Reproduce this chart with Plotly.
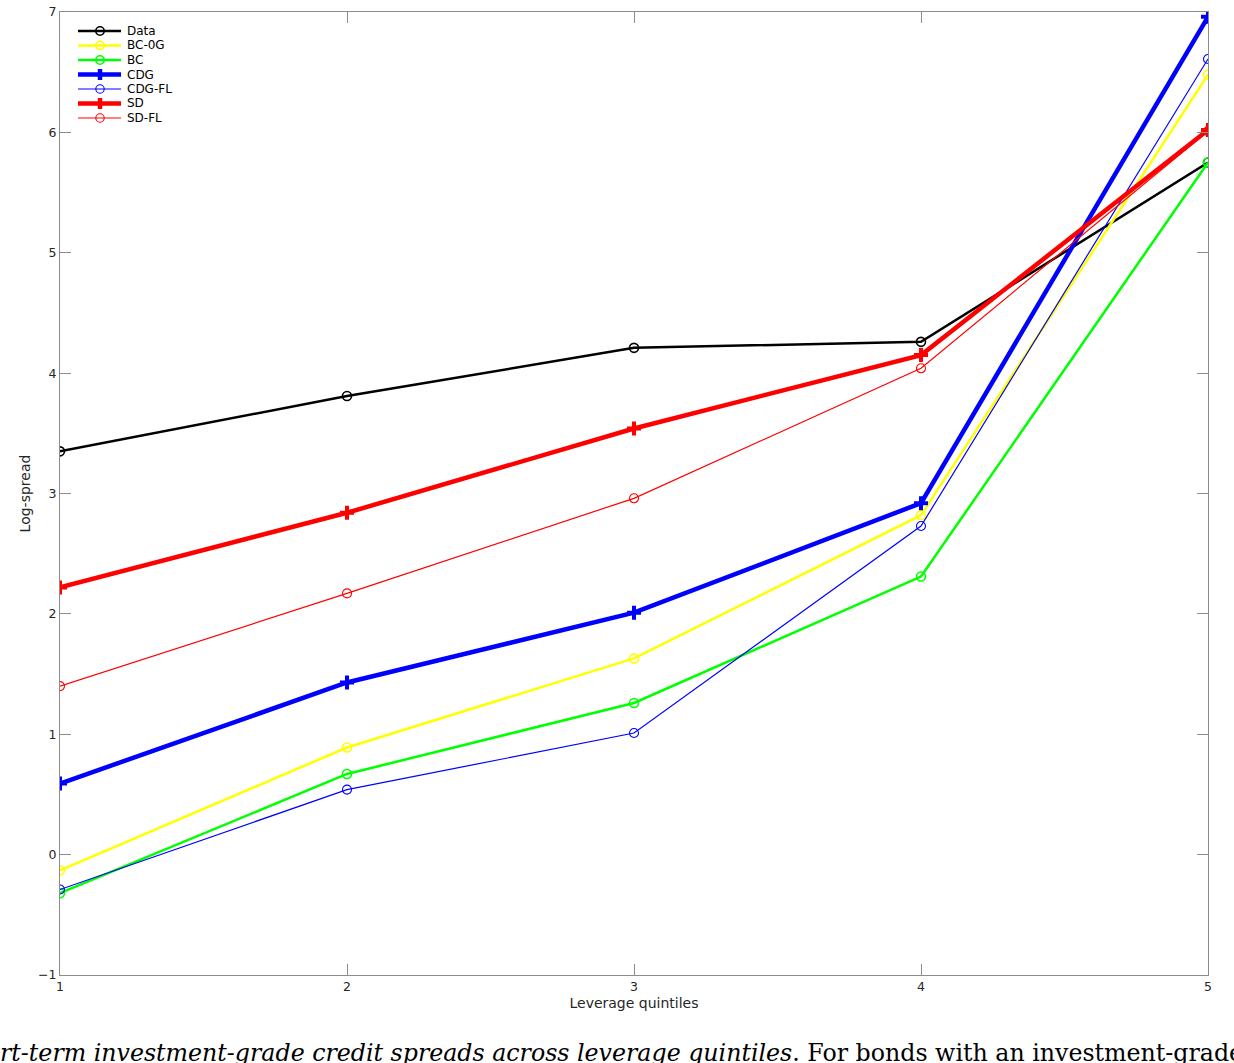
import plotly.graph_objects as go

quantiles = [1, 2, 3, 4, 5]
data_vals = [3.35, 3.81, 4.21, 4.26, 5.75]
bc0g_vals = [-0.13, 0.89, 1.63, 2.82, 6.48]
bc_vals = [-0.32, 0.67, 1.26, 2.31, 5.75]
cdg_vals = [0.59, 1.43, 2.01, 2.92, 6.96]
cdgfl_vals = [-0.29, 0.54, 1.01, 2.73, 6.61]
sd_vals = [2.22, 2.84, 3.54, 4.15, 6.02]
sdfl_vals = [1.40, 2.17, 2.96, 4.04, 6.01]

series = [
    ("Data", data_vals, "#000000", 2.5, "circle"),
    ("BC-0G", bc0g_vals, "#ffff00", 2.5, "circle"),
    ("BC", bc_vals, "#00ff00", 2.5, "circle"),
    ("CDG", cdg_vals, "#0000ff", 4.5, "plus"),
    ("CDG-FL", cdgfl_vals, "#0000ff", 1.2, "circle"),
    ("SD", sd_vals, "#ff0000", 4.5, "plus"),
    ("SD-FL", sdfl_vals, "#ff0000", 1.2, "circle"),
]

W, H = 1234, 1063
L, R, T, B = 60, 26, 12, 88
PW, PH = W - L - R, H - T - B
SANS = "DejaVu Sans, Liberation Sans, Arial"


def pxx(x):
    return (x - L) / PW


def pxy(y):
    return (H - B - y) / PH


fig = go.Figure()
for name, vals, color, lw, mk in series:
    if mk == "circle":
        marker = dict(symbol="circle-open", size=9, color=color,
                      line=dict(color=color, width=1.6 if lw > 2 else 1.1))
    else:
        marker = dict(symbol="cross-thin-open", size=10, color=color,
                      line=dict(color=color, width=4))
    fig.add_trace(go.Scatter(x=quantiles, y=vals, mode="lines+markers", name=name,
                             line=dict(color=color, width=lw), marker=marker,
                             showlegend=False))

# manual compact legend (MATLAB style, no box)
shapes = []
annotations = []
for i, (name, vals, color, lw, mk) in enumerate(series):
    yp = 31 + i * 14.5
    shapes.append(dict(type="line", xref="paper", yref="paper",
                       x0=pxx(78), x1=pxx(121), y0=pxy(yp), y1=pxy(yp),
                       line=dict(color=color, width=lw)))
    if mk == "circle":
        shapes.append(dict(type="circle", xref="paper", yref="paper",
                           xsizemode="pixel", ysizemode="pixel",
                           xanchor=pxx(100), yanchor=pxy(yp),
                           x0=-4.2, x1=4.2, y0=-4.2, y1=4.2,
                           line=dict(color=color, width=1.6 if lw > 2 else 1.1)))
    else:
        shapes.append(dict(type="line", xref="paper", yref="paper",
                           xsizemode="pixel", ysizemode="pixel",
                           xanchor=pxx(100), yanchor=pxy(yp),
                           x0=0, x1=0, y0=-5.5, y1=5.5,
                           line=dict(color=color, width=4.5)))
    annotations.append(dict(text=name, xref="paper", yref="paper",
                            x=pxx(125), y=pxy(yp), xanchor="left", yanchor="middle",
                            showarrow=False,
                            font=dict(family=SANS, size=12, color="#000000")))

annotations.append(dict(
    text="<i>rt-term investment-grade credit spreads across leverage quintiles</i>. For bonds with an investment-grade",
    xref="paper", yref="paper", x=pxx(-2), y=pxy(1053), xanchor="left", yanchor="middle",
    showarrow=False, font=dict(family="DejaVu Serif", size=23.7, color="#000000")))

axis_common = dict(showline=True, linecolor="#8c8c8c", linewidth=1, mirror="ticks",
                   ticks="inside", ticklen=11, tickcolor="#8c8c8c", tickwidth=1,
                   showgrid=False, zeroline=False, automargin=False,
                   tickfont=dict(family=SANS, size=12.5, color="#262626"))

fig.update_layout(
    width=W, height=H,
    margin=dict(l=L, r=R, t=T, b=B),
    paper_bgcolor="white", plot_bgcolor="white",
    showlegend=False,
    shapes=shapes, annotations=annotations,
    xaxis=dict(range=[1, 5], tickvals=[1, 2, 3, 4, 5], **axis_common,
               title=dict(text="Leverage quintiles", standoff=5,
                          font=dict(family=SANS, size=14, color="#262626"))),
    yaxis=dict(range=[-1, 7], tickvals=list(range(-1, 8)), **axis_common,
               title=dict(text="Log-spread", standoff=4,
                          font=dict(family=SANS, size=14, color="#262626"))),
)

fig.write_html("out.html")
